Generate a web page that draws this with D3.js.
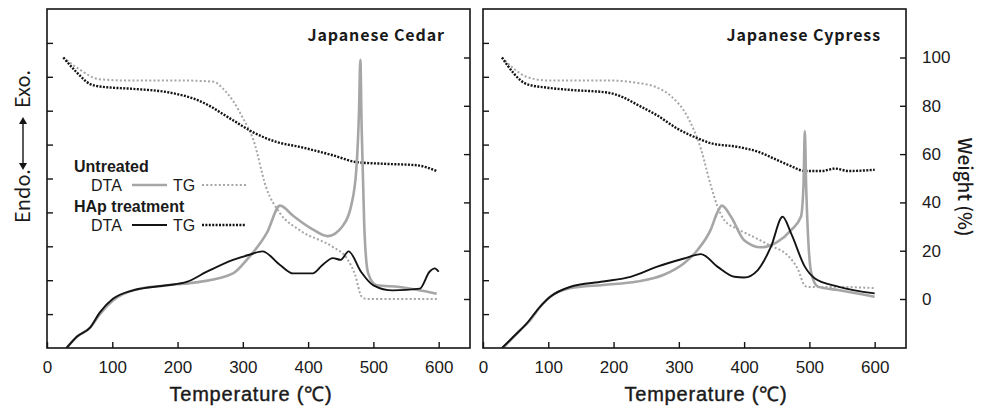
<!DOCTYPE html>
<html>
<head>
<meta charset="utf-8">
<script src="https://cdn.jsdelivr.net/npm/d3@7"></script>
<style>
  body { margin: 0; background: #fff; }
  svg text { font-family: "Noto Sans CJK JP", "Noto Sans", sans-serif; fill: #1a1a1a; }
  .tick text { font-family: "Liberation Sans", Arial, sans-serif; font-size: 17px; }
  .legend text, .xlabel { font-family: "Liberation Sans", Arial, sans-serif; }
</style>
</head>
<body>
<svg id="chart" width="983" height="414"></svg>
<script>
// temperature (°C) ticks and weight (%) ticks
const tempTicks = [0, 100, 200, 300, 400, 500, 600];
const weightTicks = [0, 20, 40, 60, 80, 100];
const dtaTicks = [1, 2, 3, 4, 5, 6, 7, 8, 9];

// Japanese Cedar, [temperature, value]; DTA in arbitrary tick units, TG in %
const cedarDtaUntreated = [[30, 0], [46, 0.33], [66, 0.6], [81, 1.0], [101, 1.4], [132, 1.7], [184, 1.85],
  [234, 1.95], [285, 2.2], [306, 2.6], [337, 3.4], [357, 4.2], [377, 3.9], [407, 3.5], [430, 3.3],
  [453, 3.6], [466, 4.2], [474, 5.3], [478, 7.0], [480, 8.5], [482, 6.5], [486, 3.6], [492, 2.2],
  [505, 1.85], [540, 1.8], [597, 1.6]];
const cedarTgUntreated = [[25, 100], [50, 95], [80, 91], [120, 90.5], [200, 90.5], [255, 90], [270, 87],
  [285, 82], [300, 75], [316, 66], [336, 46], [357, 35.5], [387, 28.5], [438, 21.5], [459, 17],
  [472, 10], [482, 1], [490, 0], [600, 0]];
const cedarDtaHap = [[30, 0], [46, 0.34], [66, 0.6], [81, 1.05], [101, 1.45], [132, 1.7], [184, 1.85],
  [214, 1.95], [245, 2.25], [285, 2.6], [310, 2.75], [330, 2.85], [357, 2.45], [377, 2.2], [407, 2.2],
  [422, 2.45], [438, 2.65], [450, 2.6], [462, 2.85], [481, 2.25], [500, 1.85], [530, 1.7],
  [571, 1.75], [586, 2.25], [594, 2.35], [600, 2.25]];
const cedarTgHap = [[25, 100], [45, 94], [66, 89], [81, 88], [132, 87], [183, 85.7], [234, 82],
  [285, 74], [316, 69], [352, 65], [387, 63], [438, 59.5], [474, 56.7], [515, 56], [566, 55.4], [597, 53]];

// Japanese Cypress
const cypressDtaUntreated = [[31, 0], [57, 0.53], [70, 0.77], [90, 1.27], [103, 1.51], [133, 1.76],
  [184, 1.86], [236, 1.96], [277, 2.16], [308, 2.5], [329, 2.9], [349, 3.5], [359, 4.0], [366, 4.2],
  [380, 3.87], [400, 3.18], [426, 2.97], [451, 3.13], [472, 3.48], [487, 3.87], [491, 4.8], [493, 6.4],
  [495, 4.8], [503, 2.2], [513, 1.81], [544, 1.71], [600, 1.51]];
const cypressTgUntreated = [[29, 100], [67, 92], [98, 90.5], [138, 90.5], [190, 90.5], [236, 89.5],
  [267, 87.5], [288, 84], [313, 75.6], [334, 62], [349, 47], [359, 38.5], [370, 32.5], [390, 29],
  [416, 25.5], [441, 22], [467, 18], [482, 12.5], [493, 5.5], [498, 5], [544, 5], [600, 4.5]];
const cypressDtaHap = [[29, 0], [47, 0.34], [65, 0.68], [88, 1.23], [103, 1.51], [133, 1.8], [184, 1.96],
  [226, 2.1], [267, 2.4], [308, 2.64], [334, 2.77], [359, 2.4], [385, 2.1], [400, 2.08], [421, 2.3],
  [441, 2.98], [459, 3.87], [472, 3.38], [493, 2.4], [508, 2.06], [544, 1.81], [600, 1.61]];
const cypressTgHap = [[29, 100], [67, 89], [98, 87.5], [138, 86.5], [190, 85.5], [215, 83.5],
  [236, 80.5], [267, 76], [298, 70.5], [329, 66.5], [349, 64.5], [390, 63], [421, 61], [451, 57.5],
  [472, 55], [493, 53], [519, 53], [539, 54], [560, 53], [600, 53.5]];

const panels = [
  { title: 'Japanese Cedar', left: 47, right: 470, labelX: 251, dtaU: cedarDtaUntreated, tgU: cedarTgUntreated,
    dtaH: cedarDtaHap, tgH: cedarTgHap, legend: true, weightLabels: false },
  { title: 'Japanese Cypress', left: 483, right: 906, labelX: 706, dtaU: cypressDtaUntreated, tgU: cypressTgUntreated,
    dtaH: cypressDtaHap, tgH: cypressTgHap, legend: false, weightLabels: true }
];

const plotTop = 9, plotBottom = 348;
const grey = '#a6a6a6', dark = '#141414';
const svg = d3.select('#chart');

const yDta = d3.scaleLinear().domain([0, 10]).range([plotBottom, plotTop]);
const yWeight = d3.scaleLinear().domain([0, 100]).range([299, 57.5]);

panels.forEach((p) => {
  const x = d3.scaleLinear().domain([0, 600]).range([p.left, p.left + (p.right - p.left) * 600 / 648]);
  const g = svg.append('g');

  const clipId = `clip-${p.left}`;
  svg.append('clipPath').attr('id', clipId)
    .append('rect').attr('x', p.left).attr('y', plotTop)
    .attr('width', p.right - p.left).attr('height', plotBottom - plotTop);

  const lineDta = d3.line().x(d => x(d[0])).y(d => yDta(d[1])).curve(d3.curveMonotoneX);
  const lineTg = d3.line().x(d => x(d[0])).y(d => yWeight(d[1])).curve(d3.curveMonotoneX);

  const plot = g.append('g').attr('clip-path', `url(#${clipId})`);
  plot.append('path').attr('d', lineTg(p.tgU)).attr('fill', 'none')
    .attr('stroke', grey).attr('stroke-width', 2).attr('stroke-dasharray', '2,2.2');
  plot.append('path').attr('d', lineTg(p.tgH)).attr('fill', 'none')
    .attr('stroke', dark).attr('stroke-width', 2.4).attr('stroke-dasharray', '2,1.4');
  plot.append('path').attr('d', lineDta(p.dtaU)).attr('fill', 'none')
    .attr('stroke', grey).attr('stroke-width', 2.6);
  plot.append('path').attr('d', lineDta(p.dtaH)).attr('fill', 'none')
    .attr('stroke', dark).attr('stroke-width', 1.9);

  // axes, ticks point inward
  const xAxis = g.append('g').attr('transform', `translate(0,${plotBottom})`)
    .call(d3.axisBottom(x).tickValues(tempTicks).tickSizeInner(-6).tickSizeOuter(0).tickPadding(13));
  xAxis.select('.domain').remove();

  const leftAxis = g.append('g').attr('transform', `translate(${p.left},0)`)
    .call(d3.axisLeft(yDta).tickValues(dtaTicks).tickSizeInner(-6).tickSizeOuter(0).tickFormat(''));
  leftAxis.select('.domain').remove();

  const rightAxis = g.append('g').attr('transform', `translate(${p.right},0)`)
    .call(d3.axisRight(yWeight).tickValues(weightTicks).tickSizeInner(-6).tickSizeOuter(0)
      .tickPadding(16).tickFormat(p.weightLabels ? d3.format('d') : ''));
  rightAxis.select('.domain').remove();
  rightAxis.selectAll('text').attr('text-anchor', 'start');

  svg.selectAll('.tick line').attr('stroke', dark).attr('stroke-width', 1.4);

  g.append('rect').attr('x', p.left).attr('y', plotTop)
    .attr('width', p.right - p.left).attr('height', plotBottom - plotTop)
    .attr('fill', 'none').attr('stroke', dark).attr('stroke-width', 1.6);

  g.append('text').attr('x', p.right - 25).attr('y', 41).attr('text-anchor', 'end')
    .attr('font-size', 16).attr('font-weight', 600).attr('letter-spacing', 0.9).text(p.title);

  g.append('text').attr('class', 'xlabel').attr('x', p.labelX).attr('y', 401).attr('text-anchor', 'middle')
    .attr('font-size', 20).attr('letter-spacing', 0.8)
    .attr('stroke', '#1a1a1a').attr('stroke-width', 0.4).text('Temperature (℃)');

  if (p.legend) {
    const lg = g.append('g').attr('class', 'legend');
    const rows = [
      { head: 'Untreated', y: 166, color: grey, w: 2.6, dotW: 2, dash: '2,2.2' },
      { head: 'HAp treatment', y: 206, color: dark, w: 1.9, dotW: 2.4, dash: '2,1.4' }
    ];
    rows.forEach((r) => {
      lg.append('text').attr('x', 74).attr('y', r.y + 6).attr('font-size', 16).attr('font-weight', 700).text(r.head);
      lg.append('text').attr('x', 91).attr('y', r.y + 25).attr('font-size', 16).text('DTA');
      lg.append('line').attr('x1', 132).attr('x2', 167).attr('y1', r.y + 19).attr('y2', r.y + 19)
        .attr('stroke', r.color).attr('stroke-width', r.w);
      lg.append('text').attr('x', 173).attr('y', r.y + 25).attr('font-size', 16).text('TG');
      lg.append('line').attr('x1', 202).attr('x2', 246).attr('y1', r.y + 19).attr('y2', r.y + 19)
        .attr('stroke', r.color).attr('stroke-width', r.dotW).attr('stroke-dasharray', r.dash);
    });
  }
});

// left axis title: Endo. <-> Exo.
const yt = svg.append('g').attr('transform', 'translate(23,149) rotate(-90)');
yt.append('text').attr('x', -47).attr('y', 7).attr('text-anchor', 'middle').attr('font-size', 20).text('Endo.');
yt.append('text').attr('x', 60).attr('y', 7).attr('text-anchor', 'middle').attr('font-size', 20).text('Exo.');
yt.append('line').attr('x1', -19).attr('x2', 30).attr('y1', 0).attr('y2', 0).attr('stroke', dark).attr('stroke-width', 1.4);
yt.append('path').attr('d', 'M-21,0 L-14,-4 L-14,4 Z').attr('fill', dark);
yt.append('path').attr('d', 'M32,0 L25,-4 L25,4 Z').attr('fill', dark);

// right axis title
svg.append('text').attr('transform', 'translate(958,187) rotate(90)').attr('text-anchor', 'middle')
  .attr('font-size', 19).attr('font-weight', 500).text('Weight (%)');
</script>
</body>
</html>
